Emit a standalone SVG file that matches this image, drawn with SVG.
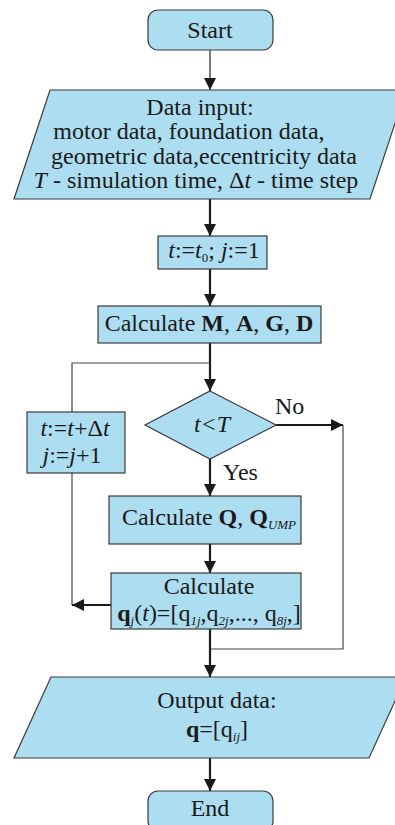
<svg xmlns="http://www.w3.org/2000/svg" width="395" height="825" viewBox="0 0 395 825">
<style>
.n{fill:#ACDDF0;stroke:#3a3a3a;stroke-width:1.2}
.t{font-family:"Liberation Serif","Times New Roman",serif;font-size:24px;fill:#1a1a1a}
.m{text-anchor:middle}
.i{font-style:italic}
.b{font-weight:bold}
.s{font-size:13px;font-style:italic}
.a{fill:none;stroke:#1a1a1a;stroke-width:2.2}
.a1{fill:none;stroke:#333;stroke-width:1.3}
.l{fill:none;stroke:#444;stroke-width:1.2}
</style>
<defs>
<marker id="ah" markerUnits="userSpaceOnUse" markerWidth="12" markerHeight="12" refX="12" refY="6" orient="auto">
<path d="M0,0 L12,6 L0,12 z" fill="#1a1a1a"/>
</marker>
</defs>
<g id="connectors">
<line class="a1" x1="210" y1="50" x2="210" y2="90" marker-end="url(#ah)"/>
<line class="a" x1="210" y1="199" x2="210" y2="236" marker-end="url(#ah)"/>
<line class="a" x1="210" y1="269" x2="210" y2="306" marker-end="url(#ah)"/>
<line class="a" x1="210" y1="343" x2="210" y2="391" marker-end="url(#ah)"/>
<polyline class="l" points="210,363 72,363 72,412"/>
<line class="l" x1="72" y1="473" x2="72" y2="605"/>
<line class="a" x1="111" y1="605" x2="72" y2="605" marker-end="url(#ah)"/>
<line class="a" x1="276" y1="425" x2="343" y2="425" marker-end="url(#ah)"/>
<polyline class="l" points="343,425 343,649 211,649"/>
<line class="a" x1="210" y1="459" x2="210" y2="496" marker-end="url(#ah)"/>
<line class="a" x1="210" y1="544" x2="210" y2="573" marker-end="url(#ah)"/>
<line class="a" x1="210" y1="629" x2="210" y2="677" marker-end="url(#ah)"/>
<line class="a" x1="210" y1="758" x2="210" y2="791" marker-end="url(#ah)"/>
</g>
<g id="start">
<rect class="n" x="148" y="10" width="125" height="40" rx="10"/>
<text class="t m" x="210" y="38">Start</text>
</g>
<g id="input">
<polygon class="n" points="50,90 406,90 370,199 14,199"/>
<text class="t m" x="200" y="115">Data input:</text>
<text class="t m" x="189" y="139">motor data, foundation data,</text>
<text class="t m" x="204" y="164">geometric data,eccentricity data</text>
<text class="t m" x="196" y="188"><tspan class="i">T</tspan> - simulation time, Δ<tspan class="i">t</tspan> - time step</text>
</g>
<g id="init">
<rect class="n" x="158" y="236" width="109" height="33"/>
<text class="t m" x="214" y="258"><tspan class="i">t</tspan>:=<tspan class="i">t</tspan><tspan font-size="13px" dy="4">0</tspan><tspan dy="-4">; </tspan><tspan class="i">j</tspan>:=1</text>
</g>
<g id="calcM">
<rect class="n" x="98" y="306" width="223" height="37"/>
<text class="t m" x="209" y="331">Calculate <tspan class="b">M</tspan>, <tspan class="b">A</tspan>, <tspan class="b">G</tspan>, <tspan class="b">D</tspan></text>
</g>
<g id="decision">
<polygon class="n" points="210,391 276,425 210,459 145,425"/>
<text class="t m i" x="212" y="432">t&lt;T</text>
<text class="t" x="275" y="414">No</text>
<text class="t" x="223" y="480">Yes</text>
</g>
<g id="incr">
<rect class="n" x="27" y="412" width="98" height="61"/>
<text class="t m" x="75" y="436"><tspan class="i">t</tspan>:=<tspan class="i">t</tspan>+Δ<tspan class="i">t</tspan></text>
<text class="t m" x="72" y="463"><tspan class="i">j</tspan>:=<tspan class="i">j</tspan>+1</text>
</g>
<g id="calcQ">
<rect class="n" x="109" y="496" width="192" height="48"/>
<text class="t m" x="209" y="525">Calculate <tspan class="b">Q</tspan>, <tspan class="b">Q</tspan><tspan class="s" dy="4">UMP</tspan></text>
</g>
<g id="calcq">
<rect class="n" x="111" y="573" width="190" height="56"/>
<text class="t m" x="209" y="594">Calculate</text>
<text class="t m" x="209" y="621" font-size="23px"><tspan class="b">q</tspan><tspan class="s" dy="4">j</tspan><tspan dy="-4">(</tspan><tspan class="i">t</tspan>)=[q<tspan class="s" dy="4">1j</tspan><tspan dy="-4">,q</tspan><tspan class="s" dy="4">2j</tspan><tspan dy="-4">,..., q</tspan><tspan class="s" dy="4">8j</tspan><tspan dy="-4">,]</tspan></text>
</g>
<g id="output">
<polygon class="n" points="51,677 406,677 369,758 14,758"/>
<text class="t m" x="217" y="708">Output data:</text>
<text class="t m" x="217" y="737"><tspan class="b">q</tspan>=[q<tspan class="s" dy="4">ij</tspan><tspan dy="-4">]</tspan></text>
</g>
<g id="end">
<rect class="n" x="148" y="791" width="125" height="40" rx="10"/>
<text class="t m" x="210" y="816">End</text>
</g>
</svg>
